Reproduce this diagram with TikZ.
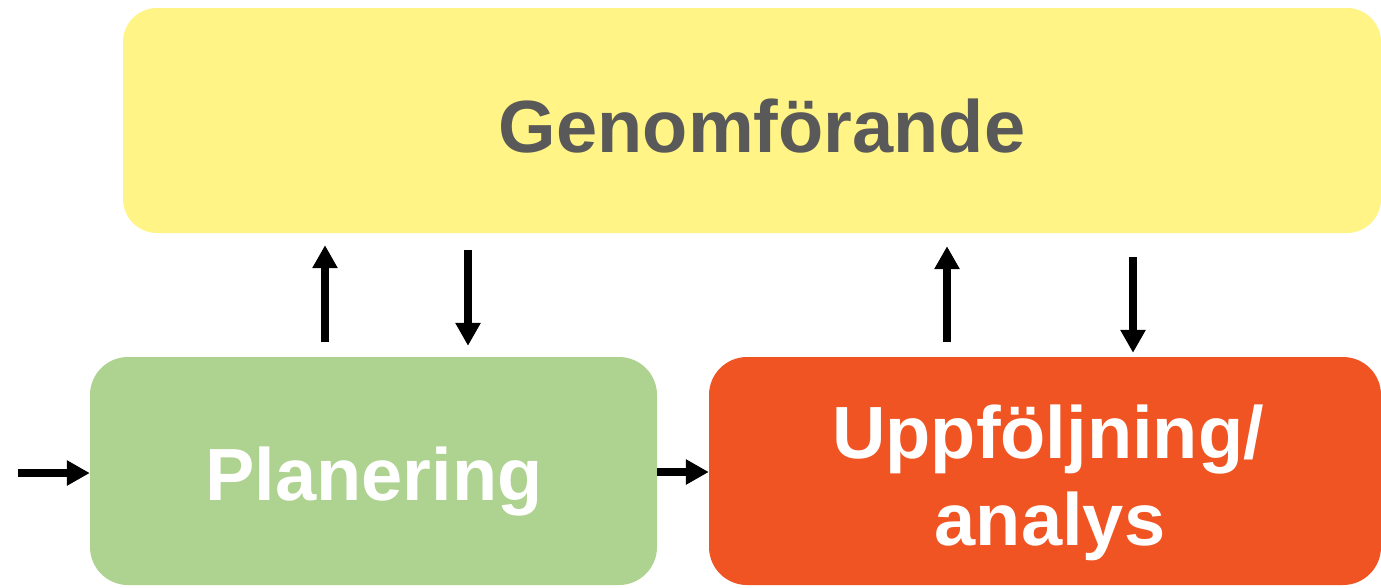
\documentclass[tikz,border=0pt]{standalone}
\usepackage{fontspec}
\setmainfont{Liberation Sans}
\usetikzlibrary{arrows.meta}
\definecolor{genyellow}{HTML}{FFF485}
\definecolor{plangreen}{HTML}{AED28F}
\definecolor{analred}{HTML}{F15423}
\definecolor{labelgray}{HTML}{595959}
\tikzset{
  stage/.style={rounded corners=38pt, draw=none, inner sep=0pt},
  biglabel/.style={font=\fontsize{74}{88}\selectfont\bfseries, align=center, inner sep=0pt},
  flow/.style={line width=7.5pt, -{Triangle[width=24pt,length=23pt]}},
}
\begin{document}
\begin{tikzpicture}[x=1pt, y=-1pt]
  \useasboundingbox (0,0) rectangle (1381,587);

  % process stages
  \node[stage, rounded corners=34pt, fill=genyellow, minimum width=1258pt, minimum height=225pt] (gen) at (752,120.5) {};
  \node[stage, fill=plangreen, minimum width=567pt, minimum height=228pt] (plan) at (373.5,471) {};
  \node[stage, fill=analred, minimum width=672pt, minimum height=228pt] (ana) at (1045,471) {};

  % stage names
  \node[biglabel, text=labelgray, anchor=base] (gentext) at (762,152) {Genomförande};
  \node[biglabel, text=white, anchor=base] (plantext) at (374,500) {Planering};
  \node[biglabel, text=white, anchor=base] (anatext1) at (1048,458) {Uppföljning/};
  \node[biglabel, text=white, anchor=base] (anatext2) at (1050,545) {analys};

  % entry point
  \coordinate (start) at (18,473);

  % connectors
  \draw[flow] (start) -- (plan.west |- start);
  \draw[flow] (plan.east |- 0,472) -- (ana.west |- 0,472);

  \draw[flow, shorten <=15pt, shorten >=12pt] (plan.north -| 325,0) -- (gen.south -| 325,0);
  \draw[flow, shorten <=17pt, shorten >=11pt] (gen.south -| 468,0) -- (plan.north -| 468,0);

  \draw[flow, shorten <=15pt, shorten >=13pt] (ana.north -| 947,0) -- (gen.south -| 947,0);
  \draw[flow, shorten <=24pt, shorten >=4pt] (gen.south -| 1133,0) -- (ana.north -| 1133,0);
\end{tikzpicture}
\end{document}
